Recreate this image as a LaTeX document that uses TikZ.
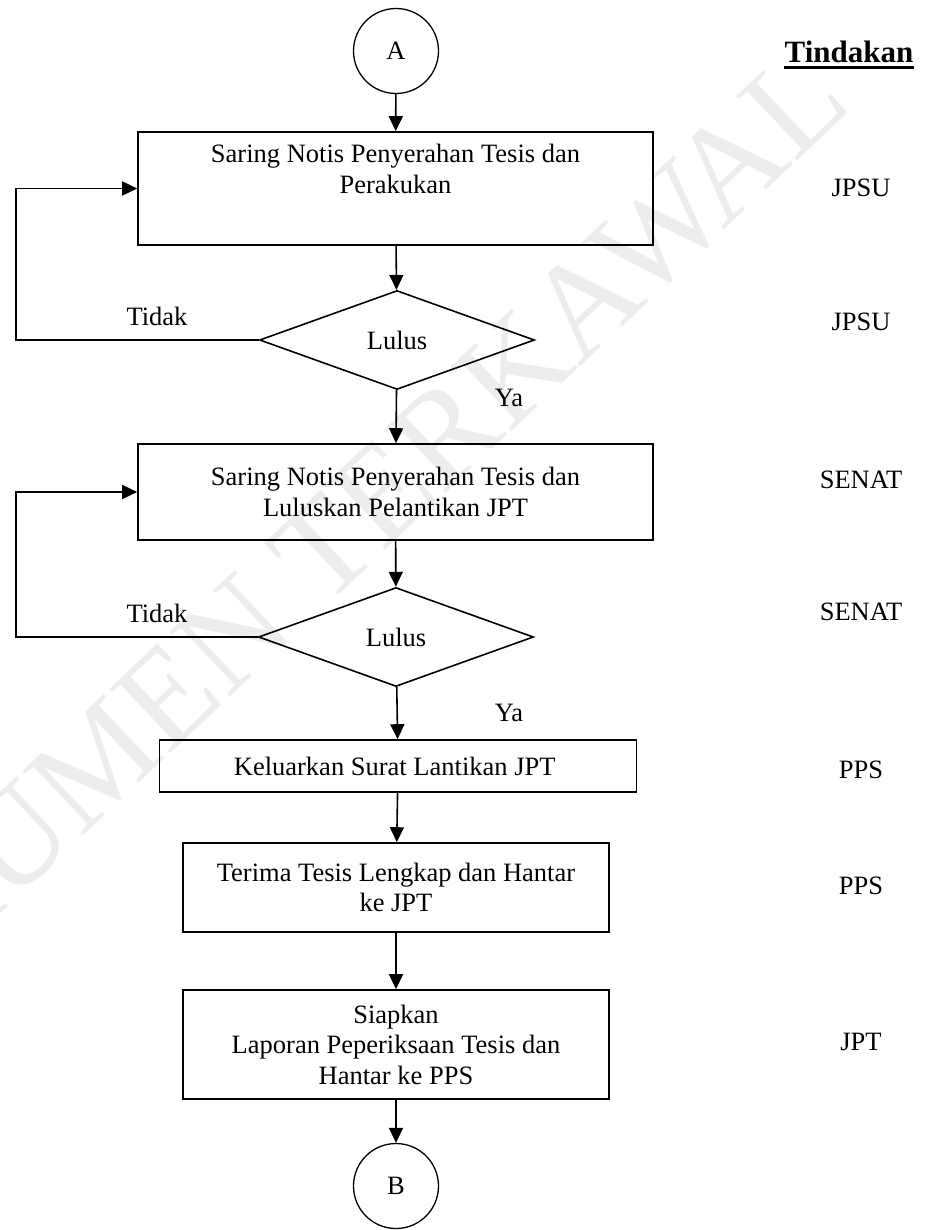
\documentclass[tikz,border=0pt]{standalone}
\usepackage{fontspec}
\setmainfont{Liberation Serif}
\usetikzlibrary{shapes.geometric,arrows.meta}

\begin{document}
\begin{tikzpicture}
      [x=1pt,y=-1pt,
       font=\fontsize{26.5}{30.5}\selectfont,
       flow/.style={
           draw=black, line width=1.6pt,
           -{Triangle[length=15pt,width=14pt]}
         },
       connector/.style={
           circle,
           draw=black, line width=1.3pt,
           minimum size=85pt, inner sep=0pt
         },
       process/.style={
           rectangle,
           draw=black, line width=1.6pt,
           align=center, inner sep=0pt
         },
       decision/.style={
           diamond,
           draw=black, line width=1.6pt,
           minimum width=275pt, minimum height=99pt,
           inner sep=0pt
         },
       actor/.style={
           anchor=center
         },
       stamp/.style={
           rotate=43.4, text=black!7,
           font=\fontsize{135}{135}\selectfont
         },
       ]
    \useasboundingbox (0,0) rectangle (925,1230);

    \node [stamp] (mark) at (296,575) {DOKUMEN TERKAWAL};

    \node [connector] (startA) at (396,51) {A};

    \node [process, minimum width=515pt, minimum height=113pt] (screen1) at (395.5,188.5) {
      Saring Notis Penyerahan Tesis dan\\
      Perakukan\\
      \strut
    };

    \node [decision] (pass1) at (397,340) {Lulus};

    \node [process, minimum width=515pt, minimum height=96pt] (screen2) at (395.5,492) {
      Saring Notis Penyerahan Tesis dan\\
      Luluskan Pelantikan JPT
    };

    \node [decision] (pass2) at (396,637) {Lulus};

    \node [process, minimum width=477pt, minimum height=52pt] (letter) at (398,766) {
      Keluarkan Surat Lantikan JPT
    };

    \node [process, minimum width=426pt, minimum height=89pt] (thesis) at (396,887.5) {
      Terima Tesis Lengkap dan Hantar\\
      ke JPT
    };

    \node [process, minimum width=426pt, minimum height=109pt] (report) at (396,1044.5) {
      Siapkan\\
      Laporan Peperiksaan Tesis dan\\
      Hantar ke PPS
    };

    \node [connector] (endB) at (396,1186) {B};

    \coordinate (back1) at (16,340);
    \coordinate (back2) at (16,637);

    \node (no1) at (157,316) {Tidak};
    \node (no2) at (157,613) {Tidak};
    \node (yes1) at (509,398) {Ya};
    \node (yes2) at (509,713) {Ya};

    \node [font=\fontsize{31}{36}\selectfont\bfseries, inner sep=0pt] (head) at (849,52) {Tindakan};
    \draw [line width=2.6pt] ([yshift=-5pt]head.base west) -- ([yshift=-5pt]head.base east);
    \node [actor] (act1) at (861,188) {JPSU};
    \node [actor] (act2) at (861,322) {JPSU};
    \node [actor] (act3) at (861,480) {SENAT};
    \node [actor] (act4) at (861,612) {SENAT};
    \node [actor] (act5) at (861,770) {PPS};
    \node [actor] (act6) at (861,886) {PPS};
    \node [actor] (act7) at (861,1042) {JPT};

    \path (startA) edge [flow] (screen1);
    \path (screen1) edge [flow] (pass1);
    \path (pass1) edge [flow] (screen2);
    \path (screen2) edge [flow] (pass2);
    \path (pass2) edge [flow] (letter);
    \path (letter) edge [flow] (thesis);
    \path (thesis) edge [flow] (report);
    \path (report) edge [flow] (endB);

    \draw [flow] (pass1.west) -- (back1) |- (screen1.west);
    \draw [flow] (pass2.west) -- (back2) |- (screen2.west);

  \end{tikzpicture}
\end{document}
